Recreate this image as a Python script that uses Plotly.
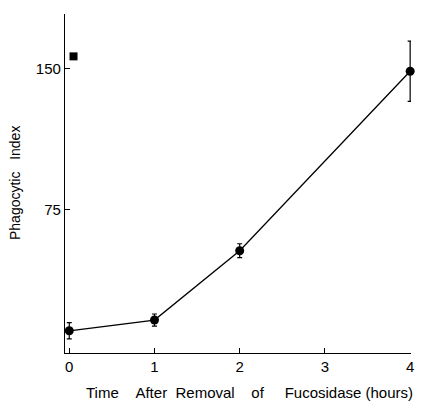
import plotly.graph_objects as go

# Data
time_hours = [0, 1, 2, 4]
phagocytic_index = [10.8, 16.5, 53.3, 148.6]
index_error = [4.3, 3.2, 3.7, 16.0]

control_time = [0.05]
control_index = [156.5]

x_ticks = [0, 1, 2, 3, 4]
y_ticks = [75, 150]

fig = go.Figure()
fig.add_trace(go.Scatter(
    x=time_hours, y=phagocytic_index, mode="lines+markers",
    line=dict(color="black", width=1.3),
    marker=dict(color="black", size=9, symbol="circle"),
    error_y=dict(type="data", array=index_error, visible=True,
                 color="black", thickness=1.2, width=2.5),
    cliponaxis=False,
    showlegend=False,
))
fig.add_trace(go.Scatter(
    x=control_time, y=control_index, mode="markers",
    marker=dict(color="black", size=8, symbol="square"),
    cliponaxis=False,
    showlegend=False,
))

font_family = "Liberation Sans, Arial, sans-serif"
sp = "\u00a0"
xtitle = f"Time{sp*4}After{sp*2}Removal{sp*4}of{sp*5}Fucosidase{sp}(hours)"
ytitle = f"Phagocytic{sp*3}Index"

L, R, T, B = 65, 10, 14, 49
W, H = 421, 402
pw = W - L - R
ph = H - T - B

fig.update_layout(
    width=W, height=H,
    margin=dict(l=L, r=R, t=T, b=B, autoexpand=False),
    paper_bgcolor="white", plot_bgcolor="white",
    font=dict(family=font_family, size=14, color="black"),
    xaxis=dict(
        range=[-0.05, 4.01], tickvals=x_ticks, ticktext=[str(v) for v in x_ticks],
        showgrid=False, zeroline=False, showline=True, linecolor="black", linewidth=1.3,
        ticks="inside", ticklen=5, tickcolor="black", tickwidth=1,
        tickfont=dict(size=15), automargin=False,
    ),
    yaxis=dict(
        range=[-1, 179], tickvals=y_ticks, ticktext=[str(v) for v in y_ticks],
        showgrid=False, zeroline=False, showline=True, linecolor="black", linewidth=1.3,
        ticks="inside", ticklen=5, tickcolor="black", tickwidth=1,
        tickfont=dict(size=15), automargin=False,
    ),
    annotations=[
        dict(text=xtitle, xref="paper", yref="paper",
             x=(84 - L) / pw, y=0, xanchor="left", yanchor="middle",
             yshift=-(392 - (H - B)), showarrow=False, font=dict(size=15)),
        dict(text=ytitle, xref="paper", yref="paper",
             x=0, y=((H - B) - 183) / ph, xanchor="center", yanchor="middle",
             xshift=15 - L, textangle=-90, showarrow=False, font=dict(size=14)),
    ],
)

fig.write_html("out.html")
